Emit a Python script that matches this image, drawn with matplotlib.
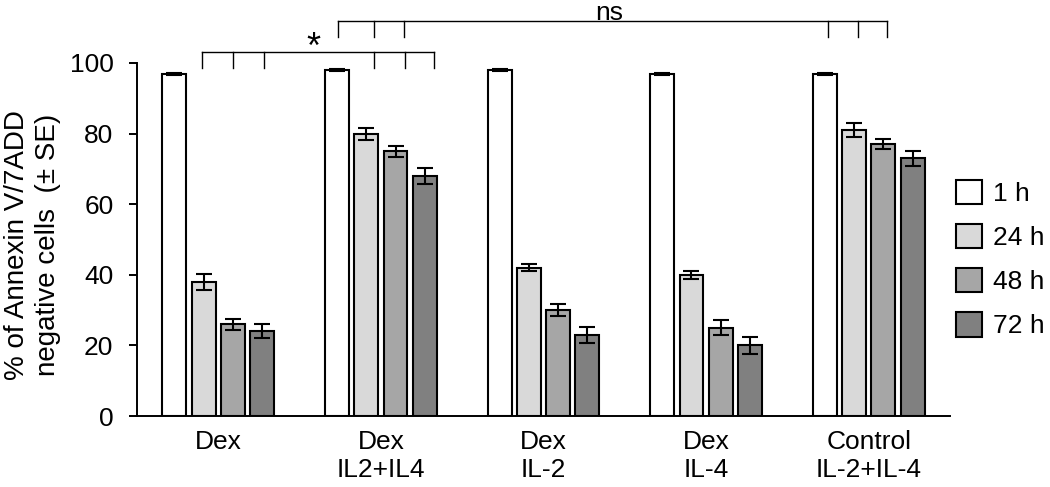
import numpy as np
import matplotlib
matplotlib.use('Agg')
import matplotlib.pyplot as plt

plt.rcParams['font.family'] = ['Liberation Sans', 'DejaVu Sans']

# === Dados ===
groups = ['Dex', 'Dex\nIL2+IL4', 'Dex\nIL-2', 'Dex\nIL-4', 'Control\nIL-2+IL-4']
times = ['1 h', '24 h', '48 h', '72 h']
vals_1h = [97, 98, 98, 97, 97]
vals_24h = [38, 80, 42, 40, 81]
vals_48h = [26, 75, 30, 25, 77]
vals_72h = [24, 68, 23, 20, 73]
err_1h = [0.3, 0.3, 0.3, 0.3, 0.3]
err_24h = [2.3, 1.7, 1.0, 1.1, 2.0]
err_48h = [1.6, 1.5, 1.6, 2.1, 1.4]
err_72h = [2.0, 2.2, 2.3, 2.5, 2.2]
colors = ['#ffffff', '#d9d9d9', '#a6a6a6', '#808080']

series = [vals_1h, vals_24h, vals_48h, vals_72h]
errors = [err_1h, err_24h, err_48h, err_72h]

FS = 19

fig = plt.figure(figsize=(10.5, 4.87), dpi=100)
ax = fig.add_axes([137 / 1050, 1 - 416 / 487, (950 - 137) / 1050, (416 - 63) / 487])

x = np.arange(len(groups))
width = 0.147
pitch = 0.18
bars = []
for i, (v, e, c) in enumerate(zip(series, errors, colors)):
    pos = x + (i - 1.5) * pitch
    b = ax.bar(pos, v, width, color=c, edgecolor='black', linewidth=1.5,
               label=times[i], zorder=2)
    ax.errorbar(pos, v, yerr=e, fmt='none', ecolor='black', elinewidth=1.5,
                capsize=6, capthick=1.5, zorder=3)
    bars.append(b)

ax.set_xlim(-0.5, len(groups) - 0.5)
ax.set_ylim(0, 100)
ax.set_yticks([0, 20, 40, 60, 80, 100])
ax.tick_params(axis='y', labelsize=FS, length=6, width=1.4, direction='out', pad=11)

ax.set_xticks(x)
ax.set_xticklabels(groups, fontsize=FS, linespacing=1.2)
ax.tick_params(axis='x', length=0, pad=10)

for s in ['top', 'right']:
    ax.spines[s].set_visible(False)
ax.spines['left'].set_linewidth(1.4)
ax.spines['bottom'].set_linewidth(1.4)

# título do eixo y
fig.text(33 / 1050, 1 - 245 / 487, '% of Annexin V/7ADD\nnegative cells  (\u00b1 SE)',
         fontsize=20, rotation=90, ha='center', va='center',
         multialignment='center', linespacing=1.25)

# === Colchetes de significância ===
def bracket(ticks, y_line, y_bottom, text, text_x, text_y, size):
    ax.plot([ticks[0], ticks[-1]], [y_line, y_line], color='black', lw=1,
            clip_on=False)
    for t in ticks:
        ax.plot([t, t], [y_line, y_bottom], color='black', lw=1, clip_on=False)
    ax.text(text_x, text_y, text, ha='center', va='center', fontsize=size,
            clip_on=False)

bracket([-0.098, 0.092, 0.282, 0.957, 1.147, 1.325], 103.1, 98.6, '*', 0.585, 104.0, 26)
bracket([0.738, 0.957, 1.141, 3.748, 3.933, 4.110], 111.9, 107.5, 'ns', 2.405, 114.3, FS)

fig.legend(handles=bars, labels=times, loc='center left',
           bbox_to_anchor=(956 / 1050, 1 - 259 / 487), frameon=False,
           fontsize=FS, handlelength=1.0, handleheight=1.05, handletextpad=0.4,
           labelspacing=0.68, borderpad=0, borderaxespad=0)

fig.savefig('out.png', dpi=100)
